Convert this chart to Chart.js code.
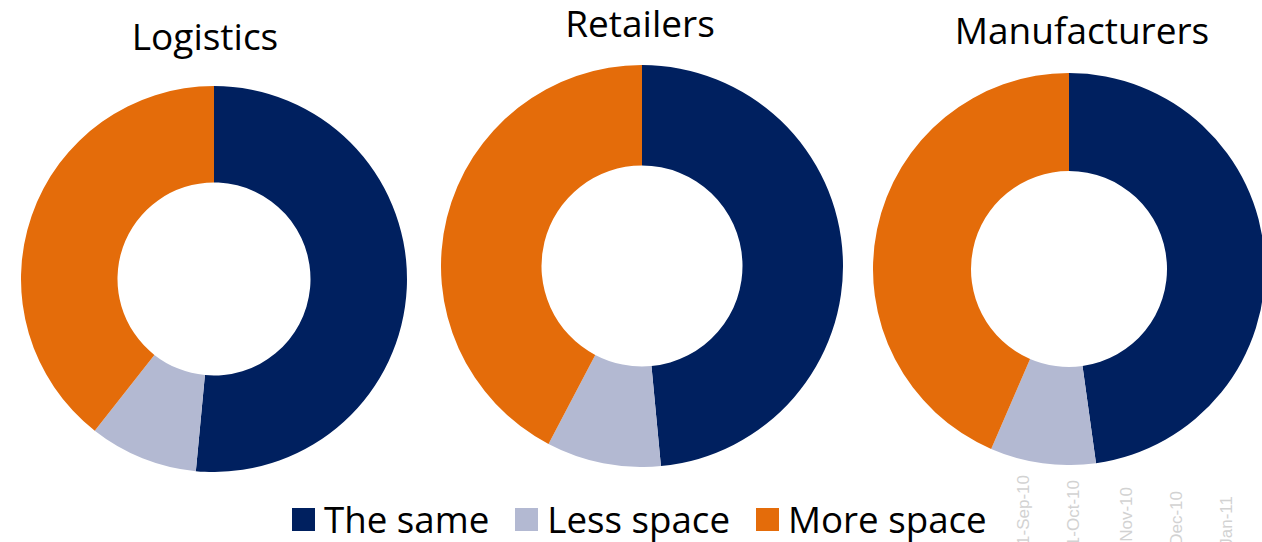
<!DOCTYPE html>
<html>
<head>
<meta charset="utf-8">
<script src="https://cdn.jsdelivr.net/npm/chart.js@4"></script>
<style>
  html, body { margin: 0; padding: 0; background: #fff; }
  body { width: 1262px; height: 542px; position: relative; overflow: hidden; font-family: "Open Sans", sans-serif; }
  .box { position: absolute; }
  .title { position: absolute; color: #000; font-size: 37px; line-height: 1; white-space: nowrap; transform: translateX(-50%); }
  #legend { position: absolute; left: 292px; top: 501px; display: flex; align-items: center; font-size: 36.7px; line-height: 1; color: #000; }
  #legend span.sw { display: inline-block; width: 23px; height: 23px; margin-right: 9px; }
  #legend span.item { display: flex; align-items: center; margin-right: 26px; white-space: nowrap; }
  .ghost { position: absolute; width: max-content; color: #d2d2d2; font-family: "Liberation Sans Narrow", "Liberation Sans", sans-serif; font-size: 17px; line-height: 1; transform: rotate(-90deg); transform-origin: right top; white-space: nowrap; }
</style>
</head>
<body>
<div id="wrap"></div>
<div id="legend"></div>
<script>
// answers per group, % of respondents
const categories = ['The same', 'Less space', 'More space'];
const groups = ['Logistics', 'Retailers', 'Manufacturers'];
const logistics = [51.5, 9.1, 39.4];
const retailers = [48.5, 9.2, 42.3];
const manufacturers = [47.8, 8.7, 43.5];
const colors = ['#00205f', '#b3b9d2', '#e46c0a'];

// faint month labels left over in the background
const ghostLabels = ['1-Sep-10', '1-Oct-10', 'Nov-10', 'Dec-10', 'Jan-11'];

const series = [logistics, retailers, manufacturers];
// centre x, centre y, radius of each ring, plus title anchor
const layout = [
  { cx: 214, cy: 279, r: 193, tx: 205, ty: 17 },
  { cx: 642, cy: 266, r: 201, tx: 640, ty: 4 },
  { cx: 1069, cy: 269, r: 196, tx: 1082, ty: 11 }
];

const wrap = document.getElementById('wrap');

groups.forEach(function(name, i) {
  const L = layout[i];
  const t = document.createElement('div');
  t.className = 'title';
  t.style.left = L.tx + 'px';
  t.style.top = L.ty + 'px';
  t.textContent = name;
  wrap.appendChild(t);

  const box = document.createElement('div');
  box.className = 'box';
  box.style.left = (L.cx - L.r) + 'px';
  box.style.top = (L.cy - L.r) + 'px';
  const c = document.createElement('canvas');
  c.width = L.r * 2;
  c.height = L.r * 2;
  box.appendChild(c);
  wrap.appendChild(box);

  new Chart(c, {
    type: 'doughnut',
    data: {
      labels: categories,
      datasets: [{
        data: series[i],
        backgroundColor: colors,
        borderWidth: 0
      }]
    },
    options: {
      responsive: false,
      animation: false,
      cutout: '50%',
      layout: { padding: 0 },
      plugins: {
        legend: { display: false },
        tooltip: { enabled: false }
      }
    }
  });
});

// shared legend under the three rings
const legend = document.getElementById('legend');
categories.forEach(function(cat, i) {
  const it = document.createElement('span');
  it.className = 'item';
  const sw = document.createElement('span');
  sw.className = 'sw';
  sw.style.background = colors[i];
  it.appendChild(sw);
  it.appendChild(document.createTextNode(cat));
  legend.appendChild(it);
});

// rotated labels, top ends stepping down to the right
const ghostX = [1015, 1065, 1118, 1168, 1218];
const ghostTop = [475, 480, 487, 491, 496];
ghostLabels.forEach(function(txt, i) {
  const g = document.createElement('div');
  g.className = 'ghost';
  g.style.right = (1262 - ghostX[i]) + 'px';
  g.style.top = ghostTop[i] + 'px';
  g.textContent = txt;
  document.body.appendChild(g);
});
</script>
</body>
</html>
